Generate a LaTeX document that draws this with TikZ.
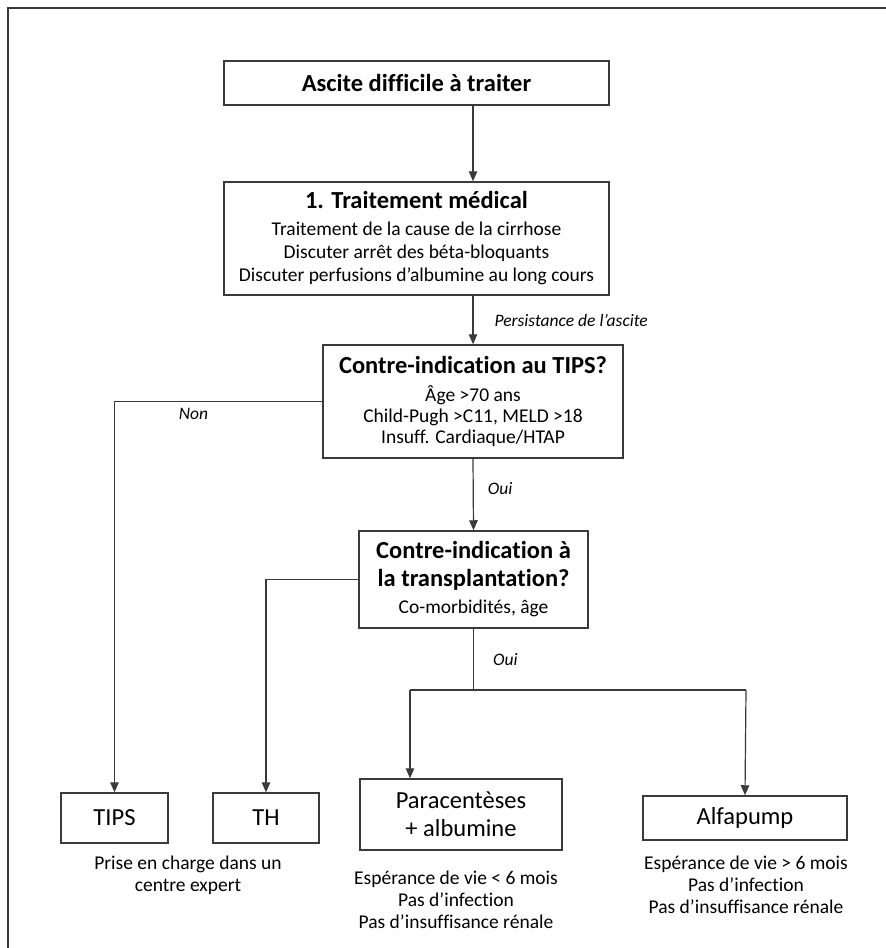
\documentclass[tikz,border=0pt]{standalone}
\usepackage{fontspec}
\setmainfont{Carlito}[Ligatures=NoCommon]
\usetikzlibrary{arrows.meta}
\definecolor{traitgris}{HTML}{3A3A3A}
\newcommand{\titre}[1]{{\fontsize{24.5}{29}\selectfont\bfseries #1}}

\begin{document}
\begin{tikzpicture}[x=1pt, y=-1pt,
    box/.style={draw=traitgris, line width=1.5pt, align=center, inner sep=0pt,
      font=\fontsize{19.5}{23}\selectfont},
    finbox/.style={box, font=\fontsize{24.5}{28}\selectfont},
    lien/.style={draw=traitgris, line width=1.2pt},
    arr/.style={lien, -{Triangle[length=10pt, width=8.5pt]}},
    lbl/.style={font=\fontsize{17.5}{20}\selectfont\itshape, inner sep=0pt},
    note/.style={align=center, inner sep=0pt, font=\fontsize{19.5}{22}\selectfont}]
  \useasboundingbox (0,0) rectangle (886,948);
  % cadre
  \draw[traitgris, line width=1.5pt] (8,960) -- (8,8) -- (900,8);

  \node[box, minimum width=385pt, minimum height=44pt] (ascite) at (416.5,83)
    {\titre{Ascite difficile à traiter}};
  \node[box, minimum width=385pt, minimum height=113pt] (medical) at (416.5,238.5)
    {\titre{1. Traitement médical}\\[4pt]
     Traitement de la cause de la cirrhose\\
     Discuter arrêt des béta-bloquants\\
     Discuter perfusions d’albumine au long cours};
  \node[box, minimum width=300pt, minimum height=113pt,
    font=\fontsize{19.5}{21}\selectfont] (ctips) at (473,401.5)
    {\titre{Contre-indication au TIPS?}\\[7pt]
     Âge >70 ans\\
     Child-Pugh >C11, MELD >18\\
     Insuff. Cardiaque/HTAP};
  \node[box, minimum width=229pt, minimum height=97pt] (ctransp) at (473.5,579.5)
    {\titre{Contre-indication à}\\[5pt]
     \titre{la transplantation?}\\[4pt]
     Co-morbidités, âge};

  % traitements
  \node[finbox, minimum width=107pt, minimum height=50pt] (tips) at (114.5,818) {TIPS};
  \node[finbox, minimum width=106pt, minimum height=50pt] (th) at (266,818) {TH};
  \node[finbox, minimum width=202pt, minimum height=71pt] (paracent) at (461,814.5)
    {Paracentèses\\+ albumine};
  \node[finbox, minimum width=204pt, minimum height=44pt] (alfapump) at (745,818) {Alfapump};

  \node[note] (tipsnote) at (188,875.5) {Prise en charge dans un\\centre expert};
  \node[note] (paranote) at (456,899.5) {Espérance de vie < 6 mois\\Pas d’infection\\Pas d’insuffisance rénale};
  \node[note] (alfanote) at (746,884.5) {Espérance de vie > 6 mois\\Pas d’infection\\Pas d’insuffisance rénale};

  % fleches
  \coordinate (forkL) at (410,690);
  \coordinate (forkR) at (746,690);
  \draw[arr] (ascite.south -| ctips.north) -- (medical.north -| ctips.north);
  \draw[arr] (medical.south -| ctips.north) -- node[lbl, anchor=west, xshift=21pt] {Persistance de l’ascite} (ctips.north);
  \draw[arr] (ctips.west) -| node[pos=0.31, lbl, anchor=north, yshift=-6pt] {Non} (tips.north);
  \draw[arr] (ctips.south) -- node[pos=0.42, lbl, anchor=west, xshift=14pt] {Oui} (ctransp.north);
  \draw[arr] (ctransp.west) -| (th.north);
  \draw[lien] (ctransp.south) -- node[pos=0.5, lbl, anchor=west, xshift=19pt] {Oui} (ctransp.south |- forkL);
  \draw[lien] (forkL) -- (forkR);
  \draw[arr] (forkL) -- (forkL |- paracent.north);
  \draw[arr] (forkR) -- (alfapump.north);
\end{tikzpicture}
\end{document}
